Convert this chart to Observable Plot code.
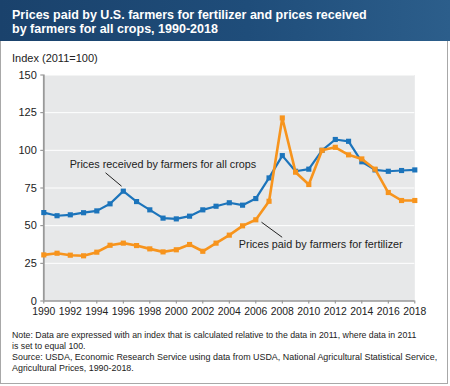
<!DOCTYPE html>
<html>
<head>
<meta charset="utf-8">
<script src="https://cdn.jsdelivr.net/npm/d3@7"></script>
<script src="https://cdn.jsdelivr.net/npm/@observablehq/plot@0.6"></script>
<style>
  html, body { margin: 0; padding: 0; background: #fff; }
  #wrap { position: relative; width: 450px; height: 386px; overflow: hidden; font-family: "Liberation Sans", Arial, Helvetica, sans-serif; }
  #title { position: absolute; left: 0; top: 0; width: 450px; height: 41px;
    background: linear-gradient(90deg, #1a426c 0%, #1f4d7a 55%, #2c5e8b 100%); }
  .tl { position: absolute; left: 12px; color: #fff; font-weight: bold; font-size: 12.5px; line-height: 15px; white-space: nowrap; }
  #ylab { position: absolute; left: 12px; top: 51.5px; font-size: 11px; line-height: 13px; color: #222; white-space: nowrap; }
  #chart { position: absolute; left: 0; top: 41px; }
  .note { position: absolute; left: 12px; font-size: 9.2px; color: #222; white-space: nowrap; line-height: 11px; }
  #border { position: absolute; left: 0; top: 41px; width: 448px; height: 343px; box-sizing: border-box; border: 1px solid #a8a8a8; border-top: none; pointer-events: none; }
</style>
</head>
<body>
<div id="wrap">
  <div id="title">
    <div class="tl" data-w="355" style="top:7.5px">Prices paid by U.S. farmers for fertilizer and prices received</div>
    <div class="tl" style="top:21.5px">by farmers for all crops, 1990-2018</div>
  </div>
  <div id="ylab">Index (2011=100)</div>
  <div id="chart"></div>
  <div class="note" data-w="404.5" style="top:330px">Note: Data are expressed with an index that is calculated relative to the data in 2011, where data in 2011</div>
  <div class="note" style="top:340.5px">is set to equal 100.</div>
  <div class="note" data-w="425" style="top:352px">Source: USDA, Economic Research Service using data from USDA, National Agricultural Statistical Service,</div>
  <div class="note" style="top:362.5px">Agricultural Prices, 1990-2018.</div>
  <div id="border"></div>
</div>
<script>
const years = d3.range(1990, 2019);
const cropsReceived = [58.7, 56.6, 57.2, 58.6, 59.8, 64.5, 72.9, 66.0, 60.5, 55.0, 54.5, 56.3, 60.5, 62.9, 65.2, 63.6, 68.0, 81.7, 96.5, 86.1, 87.5, 100, 107.2, 106.0, 92.4, 87.0, 86.1, 86.6, 87.0];
const fertilizerPaid = [30.6, 31.7, 30.4, 30.0, 32.4, 37.0, 38.4, 36.8, 34.6, 32.6, 34.0, 37.5, 33.0, 38.4, 43.7, 49.9, 53.9, 66.2, 121.5, 85.5, 77.3, 100, 102.0, 97.0, 94.3, 87.5, 72.0, 66.7, 66.7];
const xTicks = d3.range(1990, 2019, 2);
const yTicks = [0, 25, 50, 75, 100, 125, 150];
const seriesNames = ["Prices received by farmers for all crops", "Prices paid by farmers for fertilizer"];
const seriesColors = ["#1c74bb", "#f7941d"];
// annotation anchors (year, index)
const labelPos = [[1991.95, 90.8], [2004.72, 37.6]];
const leaders = [[[1994.66, 85.1], [1995.87, 76.2]], [[2006.43, 52.3], [2007.99, 42.3]]];

const crops = years.map((y, i) => ({year: y, value: cropsReceived[i]}));
const fert = years.map((y, i) => ({year: y, value: fertilizerPaid[i]}));
const labels = seriesNames.map((t, i) => ({text: t, year: labelPos[i][0], value: labelPos[i][1]}));
const leaderSegs = leaders.map(([a, b]) => ({x1: a[0], y1: a[1], x2: b[0], y2: b[1]}));

const chart = Plot.plot({
  width: 450,
  height: 281,
  marginLeft: 43.3,
  marginRight: 35.7,
  marginTop: 33.5,
  marginBottom: 21.5,
  style: {fontFamily: '"Liberation Sans", Arial, Helvetica, sans-serif', fontSize: "11px", color: "#222", background: "transparent", overflow: "visible"},
  x: {domain: [1990, 2018], label: null},
  y: {domain: [0, 150], label: null},
  marks: [
    Plot.frame({fill: "#e7e8e9", stroke: null}),
    Plot.gridY(yTicks.filter(d => d > 0), {stroke: "#fff", strokeOpacity: 1, strokeWidth: 1}),
    Plot.axisX(xTicks, {tickFormat: d => String(d), tickSize: 3, tickPadding: 3.5, stroke: "#888", fontSize: 10.4, fill: "#222"}),
    Plot.axisY(yTicks, {tickSize: 3, tickPadding: 4, stroke: "#888", fontSize: 11, fill: "#222"}),
    Plot.ruleX([1990], {y1: 0, y2: 150, stroke: "#999", strokeWidth: 1.8}),
    Plot.ruleY([0], {x1: 1990, x2: 2018, stroke: "#999", strokeWidth: 1.5}),
    Plot.link(leaderSegs, {x1: "x1", y1: "y1", x2: "x2", y2: "y2", stroke: "#222", strokeWidth: 1}),
    Plot.text(labels, {x: "year", y: "value", text: "text", textAnchor: "start", fill: "#222", fontSize: 10.8}),
    Plot.line(crops, {x: "year", y: "value", stroke: seriesColors[0], strokeWidth: 2.2}),
    Plot.dot(crops, {x: "year", y: "value", symbol: "square", r: 2.9, fill: seriesColors[0], stroke: null}),
    Plot.line(fert, {x: "year", y: "value", stroke: seriesColors[1], strokeWidth: 2.6}),
    Plot.dot(fert, {x: "year", y: "value", symbol: "square", r: 2.9, fill: seriesColors[1], stroke: null})
  ]
});
document.getElementById("chart").appendChild(chart);

// fit wide text lines to the widths measured on the reference
document.querySelectorAll("[data-w]").forEach(el => {
  const target = +el.dataset.w;
  const fs = parseFloat(getComputedStyle(el).fontSize);
  const w = el.getBoundingClientRect().width;
  const nfs = fs * target / w;
  el.style.fontSize = nfs + "px";
  // apply same size to sibling lines of the same class within same parent group
  if (el.classList.contains("tl")) document.querySelectorAll(".tl").forEach(e => e.style.fontSize = nfs + "px");
  if (el.classList.contains("note")) {
    const next = el.nextElementSibling;
    if (next && next.classList.contains("note") && !next.dataset.w) next.style.fontSize = nfs + "px";
  }
});
</script>
</body>
</html>
